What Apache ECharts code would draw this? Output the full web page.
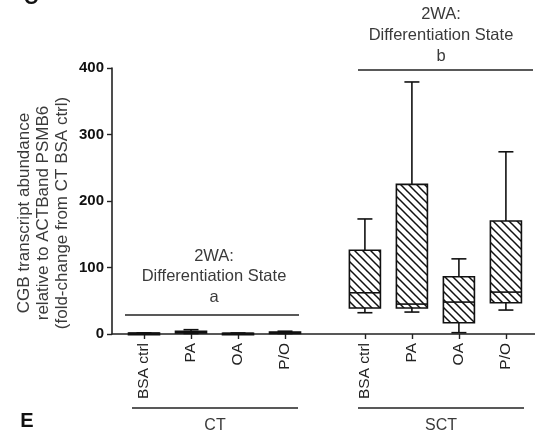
<!DOCTYPE html>
<html>
<head>
<meta charset="utf-8">
<script src="https://cdn.jsdelivr.net/npm/echarts@6/dist/echarts.min.js"></script>
<style>
html,body{margin:0;padding:0;background:#fff;}
#chart{width:535px;height:440px;}
</style>
</head>
<body>
<div id="chart"></div>
<script>
// ---- data ----
const categories = ['BSA ctrl', 'PA', 'OA', 'P/O'];
const groups = ['CT', 'SCT'];
const ctMin = [0.5, 0.8, 0.4, 0.8];
const ctQ1  = [0.8, 1.5, 0.7, 1.2];
const ctMed = [1.0, 2.5, 0.9, 2.0];
const ctQ3  = [1.3, 4.0, 1.2, 3.0];
const ctMax = [1.6, 6.5, 1.5, 4.2];
const sctMin = [32, 33, 2, 36];
const sctQ1  = [39, 39, 17, 47];
const sctMed = [62, 45, 48, 63];
const sctQ3  = [126, 225, 86, 170];
const sctMax = [173, 379, 113, 274];
const yTicks = [0, 100, 200, 300, 400];

// ---- layout ----
const groupOffset = 4.7;   // SCT group starts after gap
const boxWidth = 0.66;     // in category-spacing units
const capWidth = 15;       // px

const series1 = [];
const labelPos = [];
const labelName = [];
function addGroup(gi, mn, q1, md, q3, mx) {
  for (let i = 0; i < categories.length; i++) {
    const p = gi * groupOffset + i;
    series1.push([p, mn[i], q1[i], md[i], q3[i], mx[i]]);
    labelPos.push(p);
    labelName.push(categories[i]);
  }
}
addGroup(0, ctMin, ctQ1, ctMed, ctQ3, ctMax);
addGroup(1, sctMin, sctQ1, sctMed, sctQ3, sctMax);

// hatch pattern
const pc = document.createElement('canvas');
pc.width = 8; pc.height = 8;
const g = pc.getContext('2d');
g.fillStyle = '#fff'; g.fillRect(0, 0, 8, 8);
g.strokeStyle = '#111'; g.lineWidth = 1.5;
g.beginPath();
g.moveTo(-1, -1); g.lineTo(9, 9);
g.moveTo(-1, 7); g.lineTo(1, 9);
g.moveTo(7, -1); g.lineTo(9, 1);
g.stroke();
const hatch = { image: pc, repeat: 'repeat' };

const chart = echarts.init(document.getElementById('chart'));
const textColor = '#3a3a3a';
const FONT = 'Liberation Sans, Arial, sans-serif';

function renderBox(params, api) {
  const p = api.value(0);
  const mn = api.coord([p, api.value(1)]);
  const q1 = api.coord([p, api.value(2)]);
  const md = api.coord([p, api.value(3)]);
  const q3 = api.coord([p, api.value(4)]);
  const mx = api.coord([p, api.value(5)]);
  const w = api.size([boxWidth, 0])[0];
  const x = mn[0];
  const lw = 1.6, stroke = '#111';
  const ls = { stroke: stroke, lineWidth: lw };
  return {
    type: 'group',
    children: [
      { type: 'line', shape: { x1: x, y1: q3[1], x2: x, y2: mx[1] }, style: ls },
      { type: 'line', shape: { x1: x - capWidth / 2, y1: mx[1], x2: x + capWidth / 2, y2: mx[1] }, style: ls },
      { type: 'line', shape: { x1: x, y1: q1[1], x2: x, y2: mn[1] }, style: ls },
      { type: 'line', shape: { x1: x - capWidth / 2, y1: mn[1], x2: x + capWidth / 2, y2: mn[1] }, style: ls },
      { type: 'rect', shape: { x: x - w / 2, y: q3[1], width: w, height: Math.max(q1[1] - q3[1], 1.5) },
        style: { fill: hatch, stroke: stroke, lineWidth: lw } },
      { type: 'line', shape: { x1: x - w / 2, y1: md[1], x2: x + w / 2, y2: md[1] }, style: ls }
    ]
  };
}

const annot = { fontSize: 16.5, fontFamily: FONT, fill: textColor, textAlign: 'center', textVerticalAlign: 'middle' };
function txt(x, y, s, extra) {
  return { type: 'text', x: x, y: y, style: Object.assign({}, annot, { text: s }, extra || {}) };
}
function hline(x1, x2, y) {
  return { type: 'line', shape: { x1: x1, y1: y, x2: x2, y2: y }, style: { stroke: '#222', lineWidth: 1.6 } };
}

chart.setOption({
  animation: false,
  backgroundColor: '#fff',
  grid: { left: 112, right: 0, top: 68, bottom: 106, containLabel: false },
  xAxis: {
    type: 'value',
    min: -0.681, max: 8.319,
    splitLine: { show: false },
    axisLine: { show: true, onZero: false, lineStyle: { color: '#222', width: 1.6 } },
    axisTick: { show: true, customValues: labelPos, length: 5, lineStyle: { color: '#222', width: 1.4 } },
    axisLabel: {
      show: true, customValues: labelPos, rotate: 90, margin: 9,
      fontSize: 15.5, fontFamily: FONT, color: '#222',
      formatter: function (v) {
        for (let i = 0; i < labelPos.length; i++) if (Math.abs(labelPos[i] - v) < 1e-6) return labelName[i];
        return '';
      }
    }
  },
  yAxis: {
    type: 'value', min: 0, max: 400, interval: 100,
    splitLine: { show: false },
    axisLine: { show: true, onZero: false, lineStyle: { color: '#222', width: 1.6 } },
    axisTick: { show: true, length: 5, lineStyle: { color: '#222', width: 1.4 } },
    axisLabel: {
      fontSize: 15, fontWeight: 'bold', fontFamily: FONT, color: '#111', margin: 8,
      customValues: yTicks
    }
  },
  series: [{
    type: 'custom',
    renderItem: renderBox,
    clip: false,
    encode: { x: 0, y: [1, 2, 3, 4, 5] },
    data: series1
  }],
  graphic: [
    // panel letters
    txt(31, -2, 'C', { fontSize: 20, fontWeight: 'bold', fill: '#111' }),
    txt(27, 421, 'E', { fontSize: 20, fontWeight: 'bold', fill: '#111' }),
    // y axis title
    { type: 'text', x: 43, y: 213, rotation: Math.PI / 2,
      style: { text: 'CGB transcript abundance\nrelative to ACTBand PSMB6\n(fold-change from CT BSA ctrl)',
        fontSize: 17, fontFamily: FONT, fill: textColor, textAlign: 'center', textVerticalAlign: 'middle', lineHeight: 19 } },
    // annotation a
    txt(214, 256, '2WA:'),
    txt(214, 276, 'Differentiation State'),
    txt(214, 297, 'a'),
    hline(125, 299, 315),
    // annotation b
    txt(441, 14, '2WA:'),
    txt(441, 35, 'Differentiation State'),
    txt(441, 56, 'b'),
    hline(358, 533, 70),
    // group brackets
    hline(132, 298, 408),
    txt(215, 426, groups[0], { fontSize: 16 }),
    hline(358, 524, 408),
    txt(441, 426, groups[1], { fontSize: 16 })
  ]
});
</script>
</body>
</html>
